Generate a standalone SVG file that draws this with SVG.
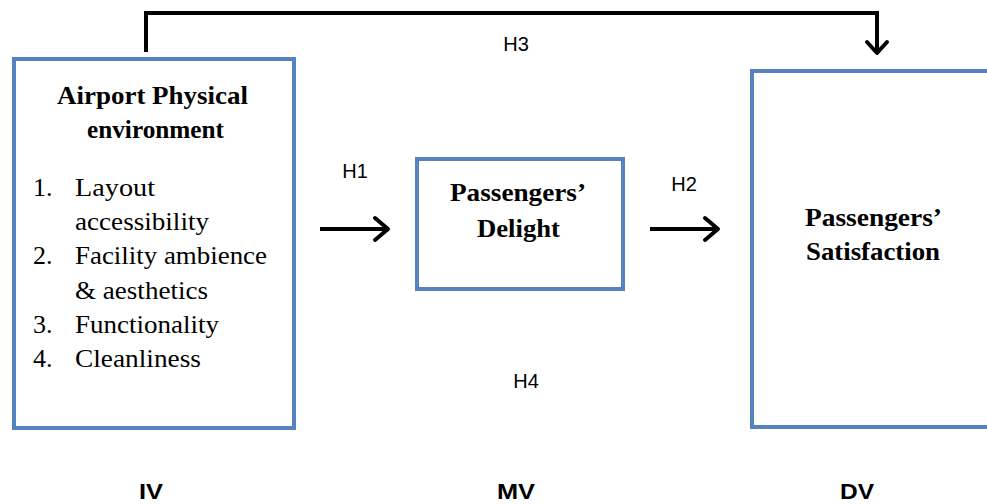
<svg xmlns="http://www.w3.org/2000/svg" width="987" height="504" viewBox="0 0 987 504">
<defs>
<style>
.box{fill:#fff;stroke:#5583C0;stroke-width:4}
.conn{fill:none;stroke:#000;stroke-width:4}
.hd{fill:none;stroke:#000;stroke-width:4;stroke-linecap:round;stroke-linejoin:round}
.t{font-family:"Liberation Serif",serif;font-size:26px;fill:#000}
.b{font-weight:bold}
.h{font-family:"Liberation Sans",Arial,sans-serif;font-size:20px;fill:#000}
.v{font-family:"Liberation Sans",Arial,sans-serif;font-size:22px;font-weight:bold;fill:#000}
</style>
</defs>
<rect width="987" height="504" fill="#fff"/>
<g id="connectors">
<path class="conn" d="M146 52 V13 H877 V52"/>
<path class="hd" d="M867 42 L877 53 L887 42"/>
<path class="conn" d="M320 229 H386"/>
<path class="hd" d="M375 218 L388 229 L375 240"/>
<path class="conn" d="M650 229 H716"/>
<path class="hd" d="M705 218 L718 229 L705 240"/>
<text class="h" x="516" y="51" text-anchor="middle">H3</text>
<text class="h" x="355" y="178" text-anchor="middle">H1</text>
<text class="h" x="684" y="191" text-anchor="middle">H2</text>
<text class="h" x="526" y="388" text-anchor="middle">H4</text>
</g>
<g id="iv">
<rect class="box" x="14" y="59" width="280" height="369"/>
<text class="t b" x="57" y="104" textLength="191" lengthAdjust="spacingAndGlyphs">Airport Physical</text>
<text class="t b" x="87" y="138" textLength="137" lengthAdjust="spacingAndGlyphs">environment</text>
<text class="t" x="33" y="196">1.</text>
<text class="t" x="75" y="196" textLength="80" lengthAdjust="spacingAndGlyphs">Layout</text>
<text class="t" x="75" y="230" textLength="134" lengthAdjust="spacingAndGlyphs">accessibility</text>
<text class="t" x="33" y="264">2.</text>
<text class="t" x="75" y="264" textLength="192" lengthAdjust="spacingAndGlyphs">Facility ambience</text>
<text class="t" x="75" y="299" textLength="133" lengthAdjust="spacingAndGlyphs">&amp; aesthetics</text>
<text class="t" x="33" y="333">3.</text>
<text class="t" x="75" y="333" textLength="144" lengthAdjust="spacingAndGlyphs">Functionality</text>
<text class="t" x="33" y="367">4.</text>
<text class="t" x="75" y="367" textLength="126" lengthAdjust="spacingAndGlyphs">Cleanliness</text>
</g>
<g id="mv">
<rect class="box" x="417" y="159" width="206" height="130"/>
<text class="t b" x="450" y="201" textLength="136" lengthAdjust="spacingAndGlyphs">Passengers’</text>
<text class="t b" x="477" y="237" textLength="83" lengthAdjust="spacingAndGlyphs">Delight</text>
</g>
<g id="dv">
<rect class="box" x="752" y="71" width="260" height="356"/>
<text class="t b" x="805" y="226" textLength="137" lengthAdjust="spacingAndGlyphs">Passengers’</text>
<text class="t b" x="806" y="260" textLength="134" lengthAdjust="spacingAndGlyphs">Satisfaction</text>
</g>
<g id="labels">
<text class="v" x="139" y="499" textLength="24" lengthAdjust="spacingAndGlyphs">IV</text>
<text class="v" x="497" y="499" textLength="38" lengthAdjust="spacingAndGlyphs">MV</text>
<text class="v" x="840" y="499" textLength="34" lengthAdjust="spacingAndGlyphs">DV</text>
</g>
</svg>
